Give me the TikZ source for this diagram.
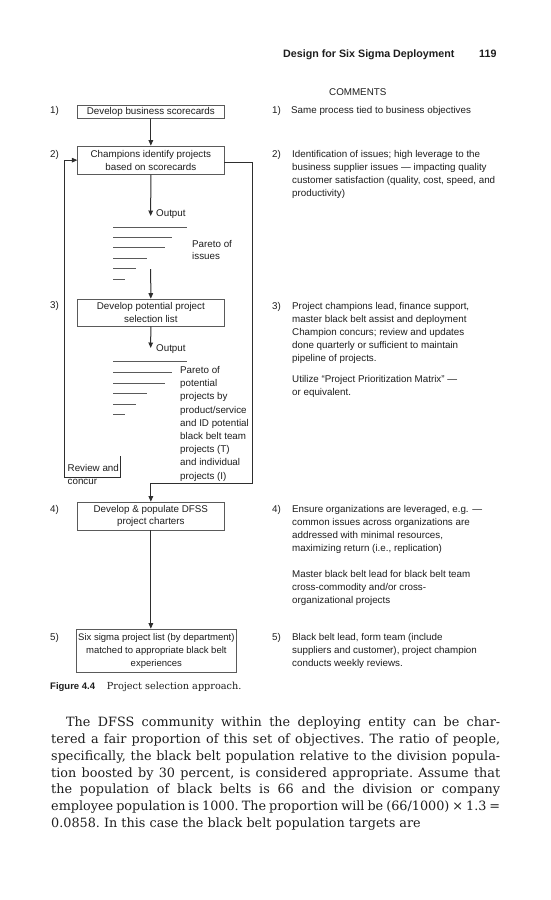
\documentclass[tikz,border=0pt]{standalone}
\usepackage{fontspec}
\setmainfont{DejaVu Serif}
\newfontfamily\sansfam{Liberation Sans}
\usetikzlibrary{arrows.meta}
\definecolor{ink}{HTML}{1E1E1E}
\definecolor{rule}{HTML}{5A5A5A}
\definecolor{flowline}{HTML}{2E2E2E}
\newcommand{\dfont}{\sansfam\fontsize{9.8}{12.9}\selectfont}
\begin{document}
\begin{tikzpicture}[x=1pt, y=-1pt, every node/.style={inner sep=0pt, text=ink},
  stage/.style={draw=rule, line width=0.6pt, minimum width=146.3pt, align=center, font=\dfont},
  txt/.style={anchor=mid west, font=\dfont},
  para/.style={anchor=north west, align=left, font=\dfont},
  flow/.style={draw=flowline, line width=1pt, -{Triangle[length=5.5pt, width=4.5pt]}},
  bar/.style={draw=rule, line width=0.8pt}]
\fill[white] (0,0) rectangle (550,900);
\useasboundingbox (0,0) rectangle (550,900);
% running head
\node[anchor=mid west, font=\sansfam\bfseries\fontsize{10.7}{13}\selectfont] (runhead) at (283,55) {Design for Six Sigma Deployment};
\node[anchor=mid west, font=\sansfam\bfseries\fontsize{10.7}{13}\selectfont] (pageno) at (479,55) {119};
% flow chart
\node[stage, minimum height=13.3pt] (b1) at (150.85,111.65) {Develop business scorecards};
\node[stage, minimum height=28.3pt] (b2) at (150.85,160.15) {Champions identify projects\\based on scorecards};
\node[stage, minimum height=27pt] (b3) at (150.85,312.5) {Develop potential project\\selection list};
\node[stage, minimum height=28pt] (b4) at (150.85,516) {Develop \& populate DFSS\\project charters};
\node[stage, minimum height=43.7pt, minimum width=160.7pt, font=\sansfam\fontsize{9.5}{12.8}\selectfont] (b5) at (156.35,650.85) {Six sigma project list (by department)\\matched to appropriate black belt\\experiences};
\node[txt] (n1) at (50,111) {1)};
\node[txt] (n2) at (50,155) {2)};
\node[txt] (n3) at (50,306) {3)};
\node[txt] (n4) at (50,510) {4)};
\node[txt] (n5) at (50,637.7) {5)};
\draw[flow] (b1) -- (b2);
\coordinate (out1) at (150.7,216);
\coordinate (in3) at (150.7,269);
\coordinate (out2) at (150.7,348);
\draw[flow] (b2) -- (out1);
\node[txt] (outtxt1) at (156,214) {Output};
\foreach \len [count=\i from 0] in {74,59,52,34,23,12}
  \draw[bar] (113,{227+10.4*\i}) -- ++(\len,0);
\node[para, font=\sansfam\fontsize{9.8}{12}\selectfont] (par1) at (192,239.2) {\strut Pareto of\\issues};
\draw[flow] (in3) -- (b3);
\draw[flow] (b3) -- (out2);
\node[txt] (outtxt2) at (156,349) {Output};
\foreach \len [count=\i from 0] in {74,59,52,34,23,12}
  \draw[bar] (113,{361.7+10.6*\i}) -- ++(\len,0);
\node[para, font=\sansfam\fontsize{9.8}{13.2}\selectfont] (par2) at (180,364) {\strut Pareto of\\potential\\projects by\\product/service\\and ID potential\\black belt team\\projects (T)\\and individual\\projects (I)};
% loops
\coordinate (loopR) at (252,483);
\draw[flow] ([yshift=-2.5pt]b2.east) -| (loopR) -| (b4.north);
\coordinate (revtop) at (120,456);
\coordinate (revbot) at (64,477);
\draw[flow] (revtop) |- (revbot) |- (b2.west);
\node[txt] (rev) at (67.5,469) {Review and};
\node[txt] (concur) at (67.5,482) {concur};
\draw[flow] (b4.south) -- (b4.south |- b5.north);
% comments
\node[txt] (cmthead) at (329,93.3) {COMMENTS};
\node[txt] (m1) at (272,110.7) {1)};
\node[txt] (c1) at (291,110.7) {Same process tied to business objectives};
\node[txt] (m2) at (272,155) {2)};
\node[para] (c2) at (292,148.6) {\strut Identification of issues; high leverage to the\\business supplier issues — impacting quality\\customer satisfaction (quality, cost, speed, and\\productivity)};
\node[txt] (m3) at (272,306.7) {3)};
\node[para] (c3a) at (292,300.3) {\strut Project champions lead, finance support,\\master black belt assist and deployment\\Champion concurs; review and updates\\done quarterly or sufficient to maintain\\pipeline of projects.};
\node[para] (c3b) at (292,373.6) {\strut Utilize “Project Prioritization Matrix” —\\or equivalent.};
\node[txt] (m4) at (272,510) {4)};
\node[para] (c4a) at (292,503.6) {\strut Ensure organizations are leveraged, e.g. —\\common issues across organizations are\\addressed with minimal resources,\\maximizing return (i.e., replication)};
\node[para] (c4b) at (292,568.6) {\strut Master black belt lead for black belt team\\cross-commodity and/or cross-\\organizational projects};
\node[txt] (m5) at (272,637.7) {5)};
\node[para] (c5) at (292,631.3) {\strut Black belt lead, form team (include\\suppliers and customer), project champion\\conducts weekly reviews.};
% caption and text
\node[anchor=mid west, font=\sansfam\bfseries\fontsize{9.5}{11}\selectfont] (figno) at (50,687.3) {Figure 4.4};
\node[anchor=mid west, font=\fontsize{9.7}{11}\selectfont] (figcap) at (106.7,687.3) {Project selection approach.};
\node[anchor=north west, text width=449pt, align=justify, font=\fontsize{12.8}{16.78}\selectfont\frenchspacing] (body) at (51,714.9) {\strut\hspace*{15pt}The DFSS community within the deploying entity can be char-\linebreak tered a fair proportion of this set of objectives. The ratio of people,\linebreak specifically, the black belt population relative to the division popula-\linebreak tion boosted by 30 percent, is considered appropriate. Assume that\linebreak the population of black belts is 66 and the division or company\linebreak employee population is 1000. The proportion will be (66/1000) × 1.3 =\linebreak 0.0858. In this case the black belt population targets are};
\end{tikzpicture}
\end{document}
